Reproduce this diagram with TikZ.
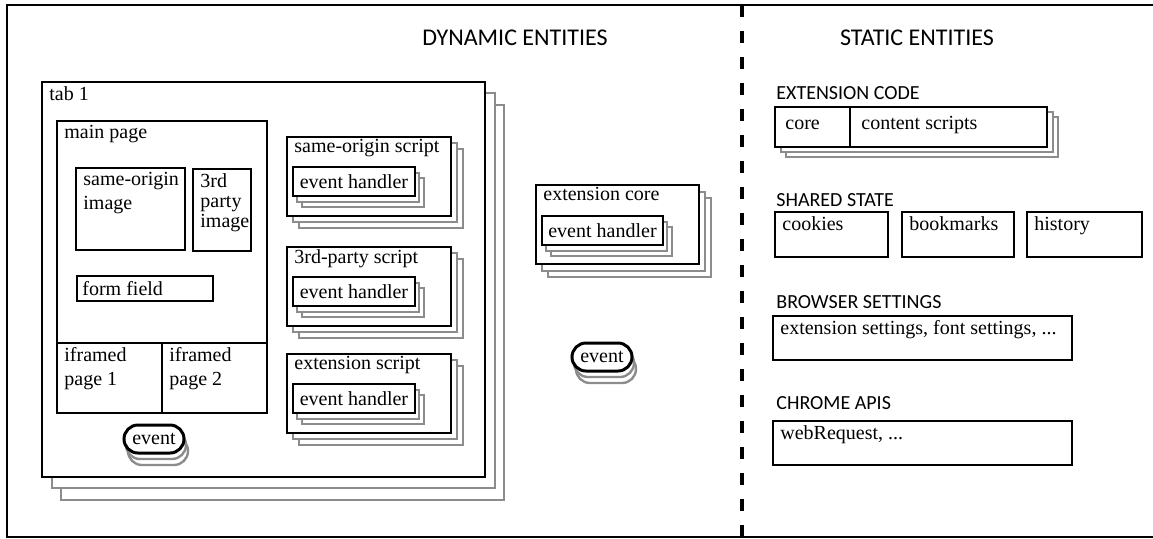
\documentclass[tikz,border=0pt]{standalone}
\usepackage{fontspec}
\setmainfont{Liberation Serif}
\newfontfamily\headfont{Carlito}
\usetikzlibrary{positioning}

\definecolor{stackgray}{gray}{0.55}

\tikzstyle{box}=[rectangle,draw=black,line width=1.35pt,fill=white,anchor=north west,inner sep=0pt,outer sep=0pt]
\tikzstyle{copybox}=[box,draw=stackgray,line width=1.2pt]
\tikzstyle{txt}=[anchor=north west,inner xsep=3.5pt,inner ysep=2pt,align=left]
\tikzstyle{heading}=[font=\headfont\fontsize{12}{14}\selectfont,inner sep=0pt]
\tikzstyle{sub}=[font=\headfont\fontsize{10}{12}\selectfont,anchor=west,inner sep=0pt]
\tikzstyle{tabdim}=[minimum width=221.5pt,minimum height=197.5pt]
\tikzstyle{scriptdim}=[minimum width=82pt,minimum height=39.5pt]
\tikzstyle{handlerdim}=[minimum width=61pt,minimum height=14.5pt]
\tikzstyle{evt}=[rectangle,rounded corners=7pt,draw=black,line width=1.5pt,fill=white,minimum width=30pt,minimum height=14pt,inner sep=0pt]
\tikzstyle{evtcopy}=[evt,draw=stackgray,line width=1.2pt]

\begin{document}
\begin{tikzpicture}[x=1pt,y=-1pt,font=\fontsize{10}{12}\selectfont]
\useasboundingbox (0,0) rectangle (576.5,269);
% frame and divider
\draw[line width=1.3pt] (3.5,2.5) rectangle (590,268.5);
\draw[line width=1.6pt,dash pattern=on 6pt off 7pt] (371,2.5) -- (371,268.5);
\node(dynamic)[heading] at (257.5,19){DYNAMIC ENTITIES};
\node(static)[heading] at (458.5,19){STATIC ENTITIES};
% tab
\node(tabback)[copybox,tabdim] at (30.5,52.5){};
\node(tabmid)[copybox,tabdim] at (26,46.5){};
\node(tab)[box,tabdim] at (21,41){};
\node(tablabel)[txt] at (tab.north west){tab 1};
\node(mainpage)[box,minimum width=105pt,minimum height=111pt] at (28.5,60.5){};
\node(mainlabel)[txt] at (mainpage.north west){main page};
\node(sameimage)[box,minimum width=54.5pt,minimum height=41pt] at (38,84){};
\node(sameimagelabel)[txt] at (sameimage.north west){same-origin\\image};
\node(thirdimage)[box,minimum width=29pt,minimum height=41pt] at (96.5,84.5){};
\node(thirdimagelabel)[txt,font=\fontsize{10}{10}\selectfont] at (thirdimage.north west){3rd\\party\\image};
\node(form)[box,minimum width=68pt,minimum height=12.5pt] at (38.5,138){};
\node(formlabel)[txt,anchor=west,inner xsep=2.5pt] at (form.west){form field};
\node(iframeone)[box,minimum width=52.5pt,minimum height=35pt] at (mainpage.south west){};
\node(iframeonelabel)[txt] at (iframeone.north west){iframed\\page 1};
\node(iframetwo)[box,minimum width=52.5pt,minimum height=35pt] at (iframeone.north east){};
\node(iframetwolabel)[txt] at (iframetwo.north west){iframed\\page 2};
\node(tabeventback)[evtcopy] at (79,225.5){};
\node(tabeventmid)[evtcopy] at (78,222.5){};
\node(tabevent)[evt] at (77,219.5){event};
% same-origin script
\node(sameoriginback)[copybox,scriptdim] at (149.5,74.5){};
\node(sameoriginmid)[copybox,scriptdim] at (146.5,71.5){};
\node(sameorigin)[box,scriptdim] at (143.5,68.5){};
\node(sameoriginlabel)[txt,inner ysep=1pt] at (sameorigin.north west){same-origin script};
\node(sameoriginhback)[copybox,handlerdim,below right=20.5pt and 7.5pt of sameorigin.north west]{};
\node(sameoriginhmid)[copybox,handlerdim,below right=18pt and 5pt of sameorigin.north west]{};
\node(sameoriginhandler)[box,handlerdim,below right=15pt and 3pt of sameorigin.north west]{event handler};
% 3rd-party script
\node(thirdpartyback)[copybox,scriptdim] at (149.5,129.5){};
\node(thirdpartymid)[copybox,scriptdim] at (146.5,126.5){};
\node(thirdparty)[box,scriptdim] at (143.5,123.5){};
\node(thirdpartylabel)[txt,inner ysep=1pt] at (thirdparty.north west){3rd-party script};
\node(thirdpartyhback)[copybox,handlerdim,below right=20.5pt and 7.5pt of thirdparty.north west]{};
\node(thirdpartyhmid)[copybox,handlerdim,below right=18pt and 5pt of thirdparty.north west]{};
\node(thirdpartyhandler)[box,handlerdim,below right=15pt and 3pt of thirdparty.north west]{event handler};
% extension script
\node(extscriptback)[copybox,scriptdim] at (149.5,183){};
\node(extscriptmid)[copybox,scriptdim] at (146.5,180){};
\node(extscript)[box,scriptdim] at (143.5,177){};
\node(extscriptlabel)[txt,inner ysep=1pt] at (extscript.north west){extension script};
\node(extscripthback)[copybox,handlerdim,below right=20.5pt and 7.5pt of extscript.north west]{};
\node(extscripthmid)[copybox,handlerdim,below right=18pt and 5pt of extscript.north west]{};
\node(extscripthandler)[box,handlerdim,below right=15pt and 3pt of extscript.north west]{event handler};
% extension core
\node(extcoreback)[copybox,scriptdim,minimum width=81.5pt] at (274,99){};
\node(extcoremid)[copybox,scriptdim,minimum width=81.5pt] at (271,96){};
\node(extcore)[box,scriptdim,minimum width=81.5pt] at (268,92.5){};
\node(extcorelabel)[txt,inner ysep=1pt] at (extcore.north west){extension core};
\node(extcorehback)[copybox,handlerdim,minimum width=60.5pt,below right=21pt and 7.5pt of extcore.north west]{};
\node(extcorehmid)[copybox,handlerdim,minimum width=60.5pt,below right=18.5pt and 5pt of extcore.north west]{};
\node(extcorehandler)[box,handlerdim,minimum width=60.5pt,below right=15.5pt and 3pt of extcore.north west]{event handler};
\node(mideventback)[evtcopy] at (303,184.5){};
\node(mideventmid)[evtcopy] at (302,181.5){};
\node(midevent)[evt] at (301,178.5){event};
% static side
\node(codehead)[sub] at (388,46.5){EXTENSION CODE};
\node(codeback)[copybox,minimum width=136pt,minimum height=20pt] at (393,58.5){};
\node(codemid)[copybox,minimum width=136pt,minimum height=20pt] at (390.5,56){};
\node(code)[box,minimum width=136pt,minimum height=20pt] at (387.5,53.5){};
\node(core)[box,minimum width=37.5pt,minimum height=20pt] at (code.north west){};
\node(corelabel)[txt,anchor=west,inner xsep=5pt] at ([yshift=1pt]core.west){core};
\node(contentlabel)[txt,anchor=west,inner xsep=5.5pt] at ([yshift=1pt]core.east){content scripts};
\node(statehead)[sub] at (388,100){SHARED STATE};
\node(cookies)[box,minimum width=56.5pt,minimum height=22.5pt] at (387.5,106){};
\node(cookieslabel)[txt] at (cookies.north west){cookies};
\node(bookmarks)[box,minimum width=56pt,minimum height=22.5pt] at (451,106){};
\node(bookmarkslabel)[txt] at (bookmarks.north west){bookmarks};
\node(history)[box,minimum width=57.5pt,minimum height=22.5pt] at (513.5,106){};
\node(historylabel)[txt] at (history.north west){history};
\node(settingshead)[sub] at (388,151){BROWSER SETTINGS};
\node(settings)[box,minimum width=149.5pt,minimum height=22pt] at (386.5,158){};
\node(settingslabel)[txt] at (settings.north west){extension settings, font settings, ...};
\node(apihead)[sub] at (388,201.5){CHROME APIS};
\node(apis)[box,minimum width=149.5pt,minimum height=22pt] at (386.5,210.5){};
\node(apislabel)[txt] at (apis.north west){webRequest, ...};
\end{tikzpicture}
\end{document}
